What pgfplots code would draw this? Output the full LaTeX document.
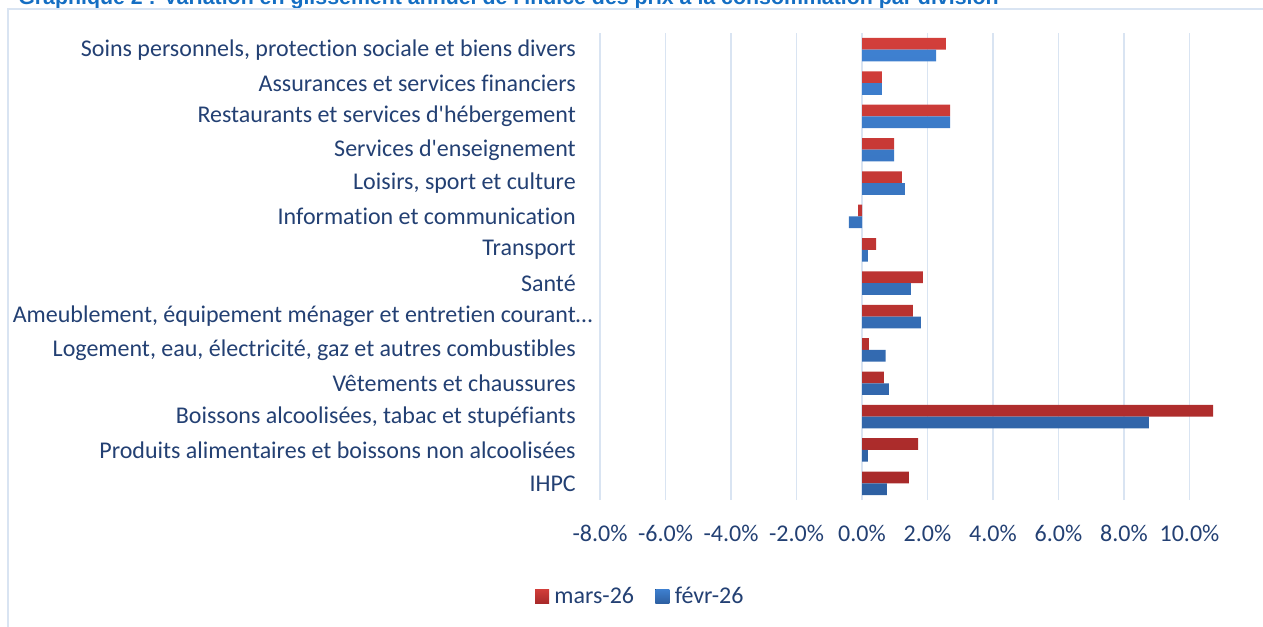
\documentclass[border=0pt]{standalone}
\usepackage{pgfplots}
\pgfplotsset{compat=1.18}
\usepackage{pgfplotstable}
\usepackage{fontspec}
\setmainfont{Carlito}[Ligatures=NoCommon]
\newfontfamily\titlefont{Liberation Sans}
\definecolor{txt}{RGB}{35,64,115}
\definecolor{gridc}{RGB}{217,228,242}
\definecolor{redA}{RGB}{210,62,58}
\definecolor{redB}{RGB}{168,42,42}
\definecolor{bluA}{RGB}{62,128,208}
\definecolor{bluB}{RGB}{46,96,162}
\definecolor{titc}{RGB}{20,110,195}
\pgfplotstableread{
idx mars fevr
0 1.43 0.76
1 1.71 0.18
2 10.72 8.76
3 0.67 0.82
4 0.21 0.72
5 1.55 1.80
6 1.86 1.49
7 0.43 0.18
8 -0.12 -0.40
9 1.22 1.31
10 0.98 0.98
11 2.69 2.69
12 0.61 0.61
13 2.56 2.26
}\data
\begin{document}
\begin{tikzpicture}
\path[use as bounding box, clip] (0pt,0pt) rectangle (947.25pt,-470.25pt);
\node[anchor=base west, inner sep=0pt, text=titc, font=\titlefont\bfseries\fontsize{16pt}{18pt}\selectfont] at (13.5pt,-3.75pt)
 {Graphique 2 : Variation en glissement annuel de l\textquotesingle indice des prix à la consommation par division};
\draw[gridc, line width=1.5pt] (6pt,-471pt) -- (6pt,-6.75pt) -- (948pt,-6.75pt);
\begin{axis}[
 at={(450pt,-24.75pt)}, anchor=north west,
 scale only axis, width=466.69pt, height=350.25pt,
 xmin=-8, xmax=11, ymin=-0.5, ymax=13.5,
 xbar, bar width=8.8pt,
 axis line style={draw=none},
 major tick length=0pt,
 xtick={-8,-6,...,10}, ytick={0,...,13},
 xmajorgrids, grid style={gridc, line width=1.2pt},
 font=\fontsize{18pt}{21pt}\selectfont,
 /pgf/number format/assume math mode=true,
 xticklabel={\pgfmathprintnumber[fixed,fixed zerofill,precision=1]{\tick}\%},
 xticklabel style={text=txt, anchor=center, inner sep=0pt, yshift=-24.75pt},
 yticklabel style={text=txt, anchor=east, inner sep=0pt, xshift=-18pt},
 yticklabels={IHPC,
  Produits alimentaires et boissons non alcoolisées,
  {Boissons alcoolisées, tabac et stupéfiants},
  Vêtements et chaussures,
  {Logement, eau, électricité, gaz et autres combustibles},
  {Ameublement, équipement ménager et entretien courant\rlap{…}},
  Santé,
  Transport,
  Information et communication,
  {Loisirs, sport et culture},
  Services d\textquotesingle enseignement,
  Restaurants et services d\textquotesingle hébergement,
  Assurances et services financiers,
  {Soins personnels, protection sociale et biens divers}},
 legend columns=2,
 legend style={at={(0.0675,-0.2056)}, anchor=center, draw=none, fill=none,
   text=txt, font=\fontsize{18pt}{21pt}\selectfont, inner sep=0pt,
   nodes={inner xsep=4pt},
   /tikz/every even column/.append style={column sep=12pt}},
 legend image code/.code={\fill[#1] (0pt,-5.25pt) rectangle (10.5pt,5.25pt);},
]
\addplot[draw=none, top color=redA, bottom color=redB, shading=axis, bar shift=4.4pt] table[x=mars,y=idx]{\data};
\addlegendentry{mars-26}
\addplot[draw=none, top color=bluA, bottom color=bluB, shading=axis, bar shift=-4.4pt] table[x=fevr,y=idx]{\data};
\addlegendentry{févr-26}
\end{axis}
\end{tikzpicture}
\end{document}
